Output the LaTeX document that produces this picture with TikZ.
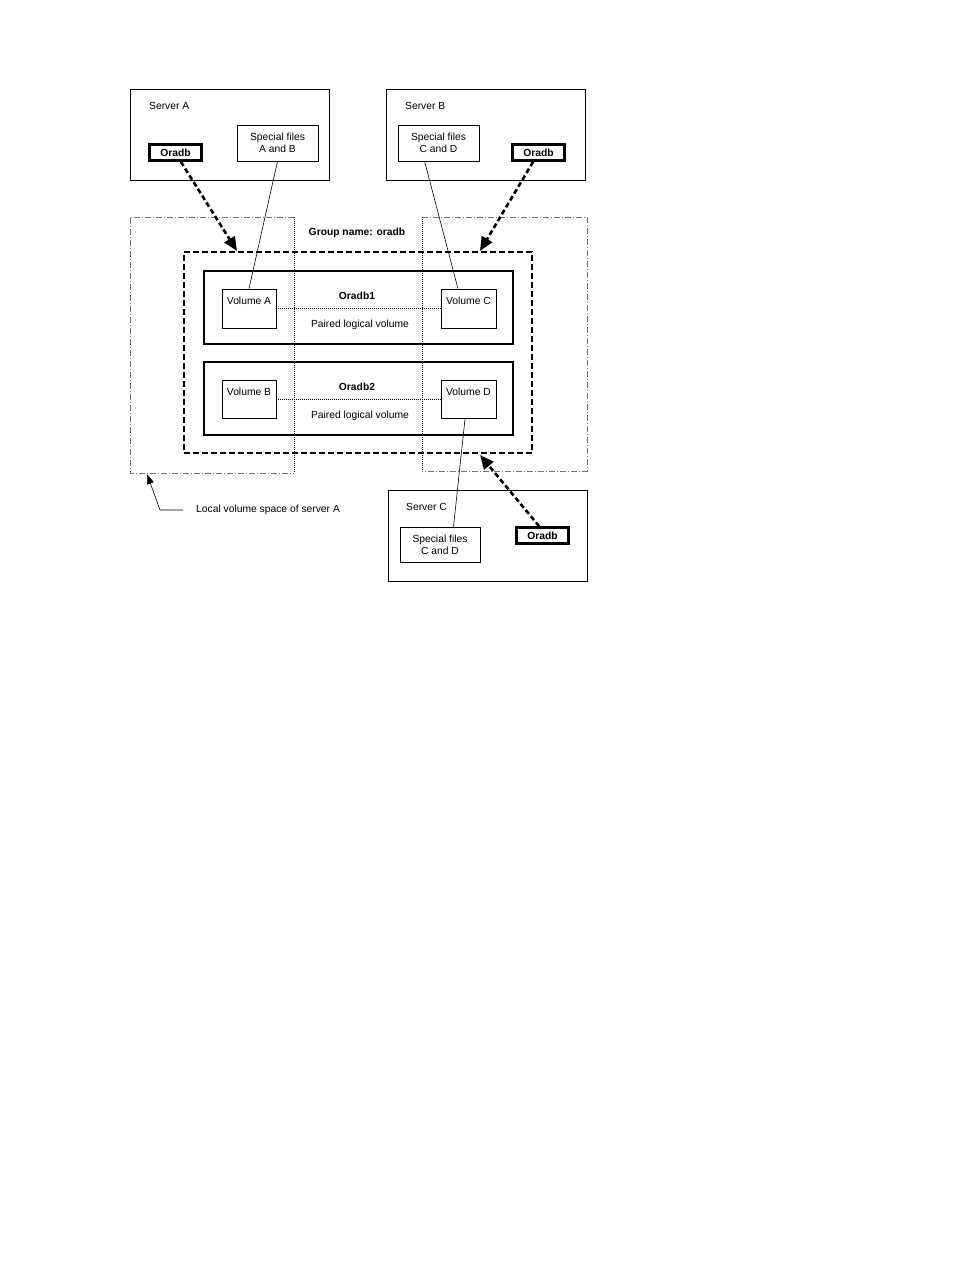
\documentclass[tikz,border=0pt]{standalone}
\usepackage{fontspec}
\setmainfont{Liberation Sans}
\usetikzlibrary{arrows.meta, positioning}

\begin{document}
\begin{tikzpicture}[x=1pt, y=-1pt,
    font=\fontsize{10.3}{12}\selectfont,
    box/.style={draw, line width=0.8pt, inner sep=0pt},
    thickbox/.style={draw, line width=2.6pt, inner sep=0pt},
    txt/.style={inner sep=1pt},
    spacebox/.style={draw=black!55, line width=0.6pt, dash pattern=on 6pt off 2pt on 1pt off 2pt},
    dotline/.style={line width=0.6pt, dash pattern=on 1pt off 1pt},
    mapline/.style={line width=2.6pt, dash pattern=on 5pt off 3pt, -{Triangle[length=14pt,width=12pt]}},
    fileline/.style={line width=0.6pt},
  ]
  \useasboundingbox (0,0) rectangle (954,1270);

  % local volume spaces
  \draw[spacebox] (294,217) -- (130,217) -- (130,473) -- (294,473);
  \draw[dotline] (294,217) -- (294,473);
  \draw[spacebox] (422,217) -- (587,217) -- (587,471) -- (422,471);
  \draw[dotline] (422,217) -- (422,471);

  % servers
  \node[box, minimum width=199, minimum height=91] (serverA) at (229.5,134.5) {};
  \node[txt, anchor=west] (serverAtxt) at (148,106) {Server A};
  \node[thickbox, minimum width=52, minimum height=16] (oradbA) at (175.5,152.5) {\bfseries Oradb};
  \node[box, minimum width=81, minimum height=36, align=center] (specAB) at (277.5,143) {Special files\\A and B};

  \node[box, minimum width=199, minimum height=91] (serverB) at (485.5,134.5) {};
  \node[txt, anchor=west] (serverBtxt) at (404,106) {Server B};
  \node[box, minimum width=81, minimum height=36, align=center] (specCDb) at (438.5,143) {Special files\\C and D};
  \node[thickbox, minimum width=52, minimum height=16] (oradbB) at (538.5,152.5) {\bfseries Oradb};

  \node[box, minimum width=199, minimum height=91] (serverC) at (487.5,535.5) {};
  \node[txt, anchor=west] (serverCtxt) at (405,507) {Server C};
  \node[box, minimum width=80, minimum height=35, align=center] (specCDc) at (440,544.5) {Special files\\C and D};
  \node[thickbox, minimum width=52, minimum height=16] (oradbC) at (542.5,535.5) {\bfseries Oradb};

  % group and pairs
  \node[draw, line width=2.6pt, dash pattern=on 6pt off 3pt, minimum width=348, minimum height=201] (group) at (358,352.5) {};
  \node[txt] (groupname) at (357,233) {\bfseries Group name: oradb};

  \node[thickbox, minimum width=309, minimum height=73] (oradb1) at (358.5,307.5) {};
  \node[box, minimum width=54, minimum height=39] (volA) at (249,308.5) {};
  \node[box, minimum width=55, minimum height=39] (volC) at (468.5,308.5) {};
  \node[txt, below=7pt of volA.north] (volAtxt) {Volume A};
  \node[txt, below=7pt of volC.north] (volCtxt) {Volume C};
  \node[txt] (oradb1txt) at (357,296) {\bfseries Oradb1};
  \node[txt] (pair1txt) at (360,325) {Paired logical volume};

  \node[thickbox, minimum width=309, minimum height=73] (oradb2) at (358.5,398.5) {};
  \node[box, minimum width=54, minimum height=38] (volB) at (249,399) {};
  \node[box, minimum width=55, minimum height=38] (volD) at (468.5,399) {};
  \node[txt, below=7pt of volB.north] (volBtxt) {Volume B};
  \node[txt, below=7pt of volD.north] (volDtxt) {Volume D};
  \node[txt] (oradb2txt) at (357,387) {\bfseries Oradb2};
  \node[txt] (pair2txt) at (360,416) {Paired logical volume};

  \draw[dotline] (volA.east) -- (volC.west);
  \draw[dotline] (volB.east) -- (volD.west);

  % special files to volumes
  \draw[fileline] (specAB.south) -- (volA.north);
  \draw[fileline] (specCDb.233) -- (volC.118);
  \draw[fileline] (volD.260) -- (specCDc.53);

  % group definitions
  \coordinate (gA) at (237,251);
  \coordinate (gB) at (480,251);
  \coordinate (gC) at (480,455);
  \draw[mapline] (oradbA.-60) -- (gA);
  \draw[mapline] (oradbB.240) -- (gB);
  \draw[mapline] (oradbC.110) -- (gC);

  % note
  \node[txt, anchor=west] (localA) at (195,510) {Local volume space of server A};
  \coordinate (lvs) at (147,474);
  \draw[line width=0.6pt, -{Triangle[length=10pt,width=7pt]}] ([xshift=-12pt]localA.west) -- ++(-23,0) -- (lvs);
\end{tikzpicture}
\end{document}
